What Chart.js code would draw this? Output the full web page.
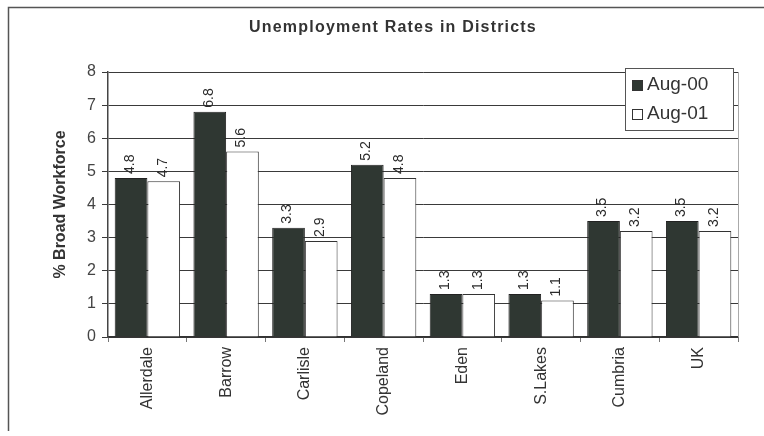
<!DOCTYPE html>
<html>
<head>
<meta charset="utf-8">
<script src="https://cdn.jsdelivr.net/npm/chart.js@4"></script>
<style>
  html, body { margin: 0; padding: 0; background: #fff; }
  #wrap { width: 764px; height: 436px; position: relative; }
</style>
</head>
<body>
<div id="wrap"><canvas id="chart"></canvas></div>
<script>
// Unemployment rates by district (% of broad workforce)
const districts = ["Allerdale", "Barrow", "Carlisle", "Copeland", "Eden", "S.Lakes", "Cumbria", "UK"]
const aug00 = [4.8, 6.8, 3.3, 5.2, 1.3, 1.3, 3.5, 3.5]
const aug01 = [4.7, 5.6, 2.9, 4.8, 1.3, 1.1, 3.2, 3.2]
const seriesNames = ["Aug-00", "Aug-01"]
const seriesColors = ["#2f3732", "#ffffff"]
const chartTitle = "Unemployment Rates in Districts"

const FONT = "'Liberation Sans', Arial, sans-serif"

// frame, title, right plot edge, value labels and the boxed legend
const extras = {
  id: "extras",
  beforeDraw(chart) {
    const ctx = chart.ctx
    ctx.save()
    ctx.fillStyle = "#fff"
    ctx.fillRect(0, 0, chart.width, chart.height)
    ctx.strokeStyle = "#555"
    ctx.lineWidth = 1.5
    ctx.beginPath()
    ctx.moveTo(8.5, 431)
    ctx.lineTo(8.5, 7.5)
    ctx.lineTo(chart.width, 7.5)
    ctx.stroke()

    ctx.fillStyle = "#333"
    ctx.font = "bold 16px " + FONT
    ctx.letterSpacing = "1.2px"
    ctx.textAlign = "center"
    ctx.textBaseline = "middle"
    ctx.fillText(chartTitle, 393, 28)
    ctx.restore()
  },
  afterDatasetsDraw(chart) {
    const ctx = chart.ctx
    const area = chart.chartArea
    ctx.save()
    ctx.strokeStyle = "#aaa"
    ctx.lineWidth = 1
    ctx.beginPath()
    ctx.moveTo(area.right + 0.5, area.top)
    ctx.lineTo(area.right + 0.5, area.bottom)
    ctx.stroke()

    ctx.fillStyle = "#2a2a2a"
    ctx.font = "14px " + FONT
    ctx.textAlign = "left"
    ctx.textBaseline = "middle"
    chart.data.datasets.forEach((ds, i) => {
      chart.getDatasetMeta(i).data.forEach((bar, j) => {
        ctx.save()
        ctx.translate(bar.x - 1, bar.y - 4)
        ctx.rotate(-Math.PI / 2)
        ctx.fillText(ds.data[j].toFixed(1), 0, 0)
        ctx.restore()
      })
    })

    // legend box
    const lx = 625, ly = 68, lw = 108, lh = 62
    ctx.fillStyle = "#fff"
    ctx.fillRect(lx, ly, lw, lh)
    ctx.strokeStyle = "#555"
    ctx.strokeRect(lx + 0.5, ly + 0.5, lw, lh)
    ctx.font = "19px " + FONT
    chart.data.datasets.forEach((ds, i) => {
      const cy = ly + 17 + i * 29
      ctx.fillStyle = ds.backgroundColor
      ctx.fillRect(lx + 7, cy - 5, 11, 11)
      ctx.strokeStyle = "#333"
      ctx.strokeRect(lx + 7.5, cy - 4.5, 10, 10)
      ctx.fillStyle = "#333"
      ctx.fillText(ds.label, lx + 22, cy)
    })
    ctx.restore()
  },
}

new Chart(document.getElementById("chart"), {
  type: "bar",
  data: {
    labels: districts,
    datasets: [
      {
        label: seriesNames[0],
        data: aug00,
        backgroundColor: seriesColors[0],
        borderColor: "#222",
        borderWidth: 1,
      },
      {
        label: seriesNames[1],
        data: aug01,
        backgroundColor: seriesColors[1],
        borderColor: "#333",
        borderWidth: 1,
      },
    ],
  },
  options: {
    responsive: true,
    maintainAspectRatio: false,
    animation: false,
    layout: { padding: { left: 0, right: 26, top: 72, bottom: 0 } },
    datasets: { bar: { categoryPercentage: 0.83, barPercentage: 1.0 } },
    plugins: {
      legend: { display: false },
      tooltip: { enabled: false },
      title: { display: false },
    },
    scales: {
      x: {
        afterFit(scale) { scale.height = 99 },
        grid: { display: true, drawOnChartArea: false, offset: true, tickLength: 5, color: "#777" },
        border: { color: "#333", width: 1.5 },
        ticks: {
          color: "#333",
          font: { family: FONT, size: 16 },
          maxRotation: 90,
          minRotation: 90,
          padding: 5,
        },
      },
      y: {
        min: 0,
        max: 8,
        afterFit(scale) { scale.width = 108 },
        grid: { color: "#3a3a3a", lineWidth: 1, tickLength: 6, drawTicks: true },
        border: { color: "#444", width: 1.5 },
        ticks: {
          stepSize: 1,
          color: "#444",
          font: { family: FONT, size: 16 },
          padding: 6,
        },
        title: {
          display: true,
          text: "% Broad Workforce",
          color: "#333",
          font: { family: FONT, size: 16, weight: "bold" },
          padding: { top: 51, bottom: 0 },
        },
      },
    },
  },
  plugins: [extras],
})
</script>
</body>
</html>
